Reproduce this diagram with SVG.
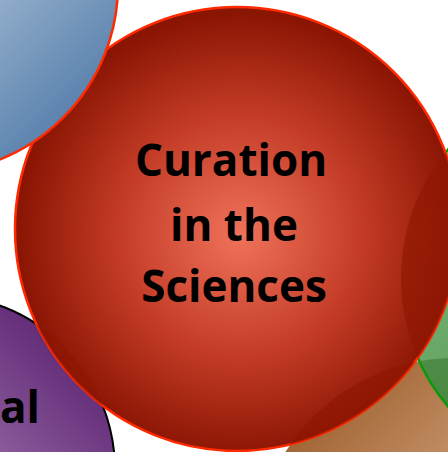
<svg xmlns="http://www.w3.org/2000/svg" width="448" height="452" viewBox="0 0 448 452">
<defs>
<radialGradient id="gRed" cx="240" cy="235" r="222" gradientUnits="userSpaceOnUse">
<stop offset="0" stop-color="#f0725a"/>
<stop offset="0.55" stop-color="#c33b26"/>
<stop offset="1" stop-color="#8a1503"/>
</radialGradient>
<linearGradient id="gBlue" x1="0" y1="0" x2="1" y2="1">
<stop offset="0" stop-color="#dfe8f1"/>
<stop offset="0.5" stop-color="#a9bfd6"/>
<stop offset="1" stop-color="#3c6a9e"/>
</linearGradient>
<linearGradient id="gPurple" x1="0" y1="1" x2="1" y2="0">
<stop offset="0" stop-color="#e2c8e8"/>
<stop offset="0.35" stop-color="#b48cc0"/>
<stop offset="1" stop-color="#4a0f62"/>
</linearGradient>
<linearGradient id="gGreen" x1="0" y1="0" x2="1" y2="1">
<stop offset="0" stop-color="#8cc48c"/>
<stop offset="1" stop-color="#2f7a2f"/>
</linearGradient>
<linearGradient id="gOrange" x1="0" y1="0" x2="1" y2="1">
<stop offset="0" stop-color="#8a4a14"/>
<stop offset="0.5" stop-color="#d7a682"/>
<stop offset="1" stop-color="#f0d2bc"/>
</linearGradient>
<clipPath id="cRed"><circle cx="237" cy="229" r="222"/></clipPath>
<clipPath id="cOrange"><circle cx="455" cy="558" r="200"/></clipPath>
<style>
.lbl{font-family:"Open Sans","Noto Sans","DejaVu Sans",sans-serif;font-weight:bold;font-size:44px;fill:#000;text-anchor:middle}
.ov{fill:#8e1600;opacity:0.6}
</style>
</defs>
<g id="node-orange">
<circle cx="455" cy="558" r="200" fill="url(#gOrange)"/>
</g>
<g id="node-green">
<circle cx="600" cy="278" r="199" fill="url(#gGreen)" stroke="#0a9a0a" stroke-width="2.5"/>
<circle cx="600" cy="278" r="198" clip-path="url(#cOrange)" fill="#2e6a22" opacity="0.45"/>
</g>
<g id="node-purple">
<circle cx="-60" cy="470" r="175" fill="url(#gPurple)" stroke="#000" stroke-width="2"/>
<text class="lbl" x="0" y="423" style="text-anchor:start">al</text>
</g>
<g id="node-red">
<circle cx="237" cy="229" r="222" fill="url(#gRed)" stroke="#ff2a00" stroke-width="2.5"/>
<g clip-path="url(#cRed)">
<circle class="ov" cx="600" cy="278" r="199"/>
<circle class="ov" cx="455" cy="558" r="200"/>
<circle class="ov" cx="-60" cy="470" r="175"/>
</g>
<text class="lbl" x="231" y="176">Curation</text>
<text class="lbl" x="234" y="241">in the</text>
<text class="lbl" x="234" y="302">Sciences</text>
</g>
<g id="node-blue">
<circle cx="-70" cy="-15" r="188" fill="url(#gBlue)" stroke="#ff2a00" stroke-width="2.5"/>
</g>
</svg>
